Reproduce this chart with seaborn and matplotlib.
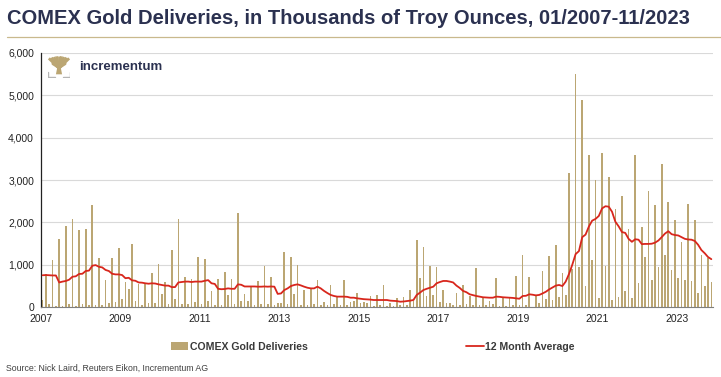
import numpy as np
import pandas as pd
import seaborn as sns
import matplotlib.pyplot as plt
from matplotlib.patches import Patch, Polygon
from matplotlib.lines import Line2D

# monthly COMEX gold deliveries (thousand oz), 01/2007 - 11/2023
deliveries = [
    165, 770, 63, 1100, 25, 1610, 15, 1920, 63, 2070, 25, 1830,        # 2007
    63, 1850, 47, 2410, 47, 1160, 47, 640, 100, 1150, 125, 1385,       # 2008
    190, 580, 425, 1490, 140, 535, 47, 560, 100, 795, 100, 1010,       # 2009
    307, 580, 70, 1340, 200, 2080, 80, 715, 80, 660, 125, 1190,        # 2010
    63, 1130, 135, 385, 47, 650, 47, 820, 285, 660, 63, 2210,          # 2011
    140, 307, 140, 465, 47, 605, 70, 975, 70, 715, 47, 87,             # 2012
    87, 1305, 70, 1170, 300, 990, 47, 400, 47, 440, 70, 640,           # 2013
    47, 110, 47, 520, 70, 230, 40, 640, 47, 125, 150, 340,             # 2014
    87, 125, 87, 260, 30, 285, 40, 520, 30, 87, 30, 205,               # 2015
    40, 245, 50, 400, 150, 1580, 680, 1425, 260, 975, 285, 950,        # 2016
    125, 400, 87, 100, 40, 320, 40, 520, 60, 260, 40, 910,             # 2017
    47, 245, 40, 150, 63, 680, 25, 230, 25, 230, 47, 740,              # 2018
    47, 1230, 47, 700, 10, 280, 85, 860, 180, 1210, 165, 1465,         # 2019
    245, 795, 285, 3155, 900, 5500, 950, 4900, 495, 3600, 1110, 3000,  # 2020
    205, 3640, 970, 3080, 165, 2310, 230, 2620, 385, 1840, 220, 3600,  # 2021
    575, 1900, 1170, 2740, 640, 2410, 950, 3370, 1220, 2490, 875, 2060,  # 2022
    680, 1535, 630, 2430, 610, 2055, 330, 1230, 495, 1150, 600,        # 2023
]

avg_12m = [
    750, 755, 750, 745, 745, 580, 600, 615, 645, 715, 725, 780,
    785, 850, 860, 975, 990, 950, 935, 875, 850, 785, 770, 770,
    755, 680, 690, 630, 620, 580, 575, 560, 550, 560, 555, 535,
    520, 505, 505, 470, 470, 580, 590, 600, 600, 590, 600, 600,
    600, 620, 635, 560, 545, 430, 420, 425, 440, 430, 430, 535,
    525, 485, 485, 485, 485, 480, 480, 485, 480, 485, 480, 310,
    320, 400, 440, 495, 520, 535, 510, 480, 455, 440, 440, 480,
    440, 380, 330, 285, 260, 245, 245, 245, 240, 220, 220, 205,
    195, 185, 180, 175, 165, 165, 165, 165, 165, 150, 145, 140,
    125, 130, 140, 150, 165, 285, 340, 400, 430, 455, 480, 560,
    590, 615, 615, 600, 580, 505, 450, 380, 350, 300, 280, 260,
    245, 230, 225, 220, 220, 245, 240, 230, 225, 220, 215, 205,
    195, 260, 265, 300, 290, 275, 285, 320, 360, 415, 460, 505,
    520, 495, 600, 780, 1000, 1250, 1320, 1650, 1710, 1900, 2040, 2080,
    2150, 2330, 2380, 2370, 2250, 2015, 1905, 1770, 1750, 1610, 1540, 1600,
    1590, 1485, 1490, 1490, 1495, 1520, 1570, 1650, 1735, 1790, 1720, 1700,
    1690, 1650, 1610, 1595, 1590, 1560, 1470, 1345, 1270, 1180, 1130,
]

year_labels = ['2007', '2009', '2011', '2013', '2015', '2017', '2019', '2021', '2023']
y_ticks = [0, 1000, 2000, 3000, 4000, 5000, 6000]

GOLD = '#bba673'
RED = '#d8261c'
NAVY = '#2b3150'

df = pd.DataFrame({'month': np.arange(len(deliveries)),
                   'deliveries': deliveries,
                   'avg': avg_12m})

sns.set_style('white')
plt.rcParams['font.family'] = ['Liberation Sans', 'DejaVu Sans']

fig = plt.figure(figsize=(7.21, 3.77), dpi=100)
ax = fig.add_axes([41 / 721, 1 - 307 / 377, 672 / 721, 254 / 377])

sns.barplot(data=df, x='month', y='deliveries', native_scale=True, color=GOLD,
            saturation=1, width=0.5, edgecolor='none', ax=ax, zorder=2)
sns.lineplot(data=df, x='month', y='avg', color=RED, lw=1.3, ax=ax, zorder=3)

ax.set_xlim(-0.5, len(deliveries) - 0.5)
ax.set_ylim(0, 6000)
ax.set_xticks(np.arange(len(year_labels)) * 24 - 0.5)
ax.set_xticklabels(year_labels, fontsize=7.5)
ax.set_yticks(y_ticks)
ax.set_yticklabels([f'{v:,}' for v in y_ticks], fontsize=7.5)
ax.set_xlabel('')
ax.set_ylabel('')
ax.grid(axis='y', color='#d9d9d9', lw=0.8, zorder=0)
ax.tick_params(axis='both', length=3, width=0.8, pad=2, colors='#222222')
for s in ['top', 'right']:
    ax.spines[s].set_visible(False)
ax.spines['left'].set_color('#222222')
ax.spines['left'].set_linewidth(0.9)
ax.spines['bottom'].set_color('#7f7f7f')
ax.spines['bottom'].set_linewidth(0.8)

# title and gold rule
fig.text(7 / 721, 1 - 18 / 377, 'COMEX Gold Deliveries, in Thousands of Troy Ounces, 01/2007-11/2023',
         fontsize=14.5, fontweight='bold', color=NAVY, va='center', ha='left')
fig.add_artist(Line2D([7 / 721, 1], [1 - 37 / 377] * 2, color='#c9b98d', lw=0.9))

# logo: little gold tree on a grey base
lax = fig.add_axes([48 / 721, 1 - 78 / 377, 22 / 721, 23 / 377])
lax.set_xlim(0, 1)
lax.set_ylim(0, 1)
lax.axis('off')
lax.add_patch(Polygon([[0.36, 0.16], [0.64, 0.16], [0.57, 0.5], [0.43, 0.5]], color=GOLD, lw=0))
for xe in np.linspace(0.04, 0.96, 9):
    lax.plot([0.5, xe], [0.42, 0.97 - 0.25 * abs(xe - 0.5)], color=GOLD, lw=2.0,
             solid_capstyle='butt')
for xs in [0.22, 0.78]:
    lax.plot([xs, 0.5], [0.62, 0.45], color=GOLD, lw=2.0)
lax.plot([0.02, 0.02, 0.3], [0.24, 0.03, 0.03], color='#b5b5b5', lw=1.0)
lax.plot([0.98, 0.98, 0.7], [0.24, 0.03, 0.03], color='#b5b5b5', lw=1.0)
fig.text(79 / 721, 1 - 67 / 377, 'incrementum', fontsize=9.5, fontweight='bold',
         color=NAVY, va='center', ha='left')

# legend
handles = [Patch(facecolor=GOLD, edgecolor='none', label='COMEX Gold Deliveries'),
           Line2D([], [], color=RED, lw=1.3, label='12 Month Average')]
leg = fig.legend(handles=handles, loc='center left', bbox_to_anchor=(161 / 721, 1 - 347 / 377),
                 ncol=2, frameon=False, handlelength=1.7, handleheight=0.75, handletextpad=0.1,
                 columnspacing=15.0, prop={'weight': 'bold', 'size': 7.6})
for t in leg.get_texts():
    t.set_color('#3a3a3a')

fig.text(6 / 721, 1 - 368 / 377, 'Source: Nick Laird, Reuters Eikon, Incrementum AG',
         fontsize=6.3, color='#404040', va='center', ha='left')

fig.savefig('out.png', dpi=100)
